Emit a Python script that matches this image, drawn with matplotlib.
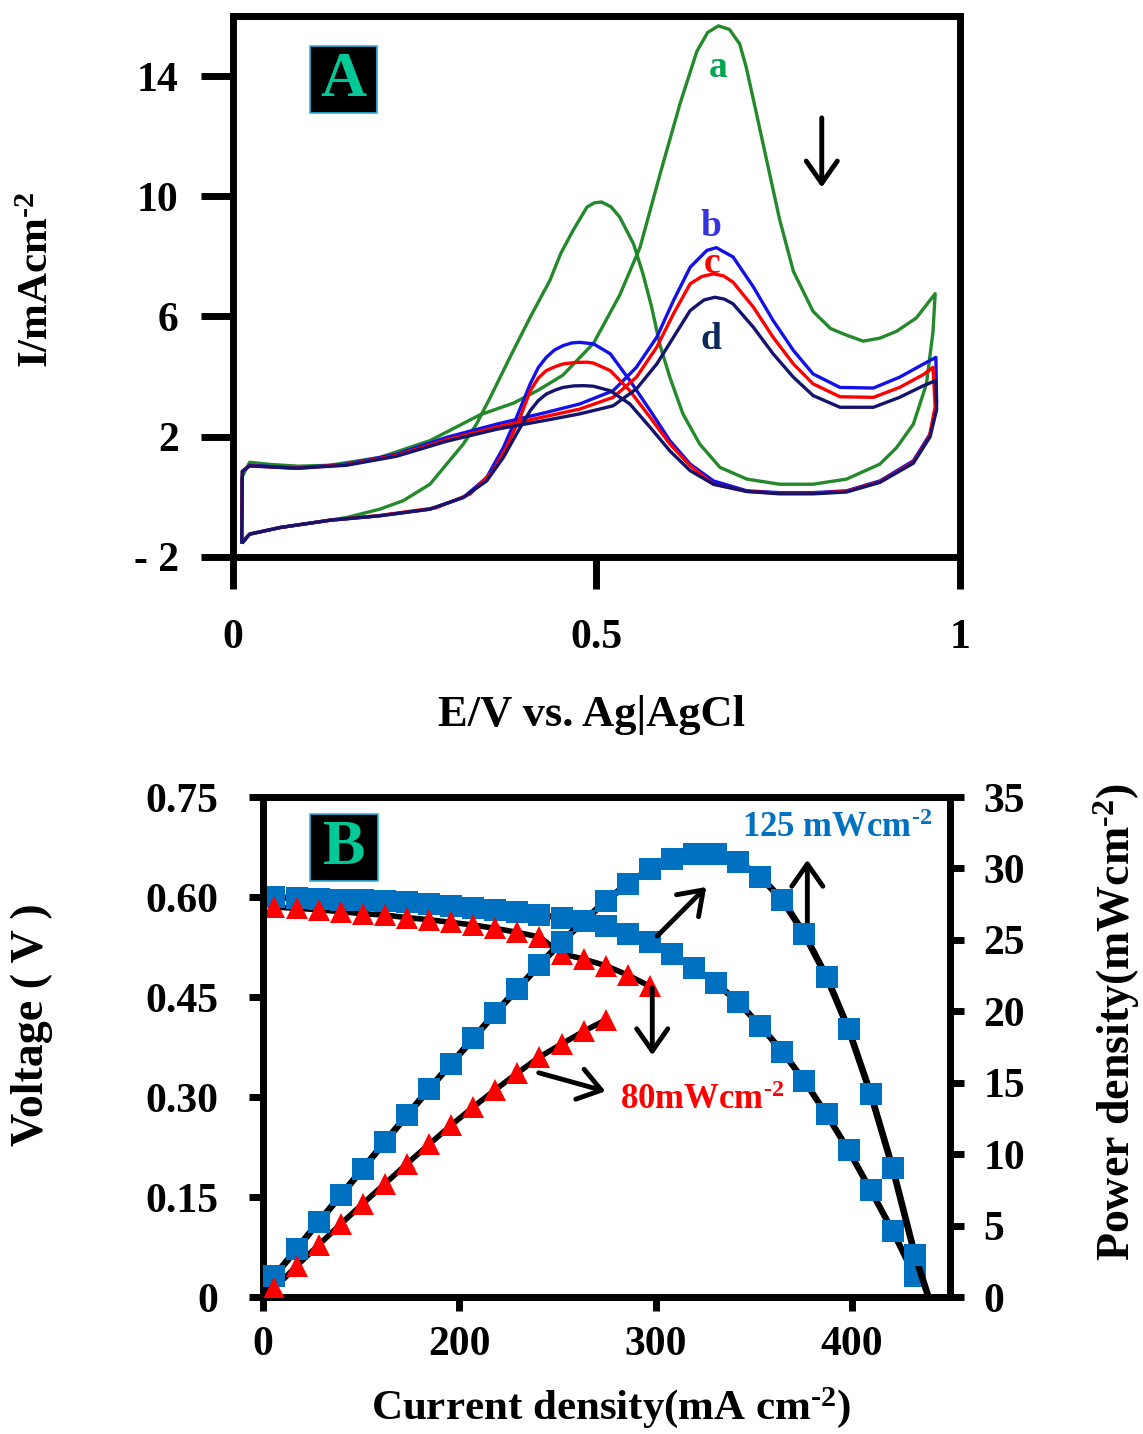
import matplotlib
matplotlib.use('Agg')
import matplotlib.pyplot as plt
from matplotlib import rcParams
from matplotlib.patches import Rectangle

## Times-like bold text everywhere
rcParams['font.family'] = 'serif'
rcParams['font.serif'] = ['Liberation Serif']
rcParams['font.weight'] = 'bold'
rcParams['mathtext.fontset'] = 'custom'
rcParams['mathtext.rm'] = 'Liberation Serif:bold'
rcParams['mathtext.default'] = 'rm'

SUP = r'$^{\text{-2}}$'

##---- (A) cyclic voltammograms: potential (V) and current (mA cm-2) ----##
a_E = [0.012, 0.012, 0.023, 0.051, 0.090, 0.133, 0.202, 0.271, 0.340, 0.386, 0.420,
       0.454, 0.496, 0.532, 0.560, 0.587, 0.615, 0.638, 0.653, 0.668, 0.683, 0.697,
       0.706, 0.716, 0.734, 0.752, 0.771, 0.798, 0.822, 0.844, 0.867, 0.890, 0.913,
       0.940, 0.966,
       0.963, 0.954, 0.936, 0.913, 0.890, 0.844, 0.798, 0.752, 0.707, 0.670, 0.642,
       0.619, 0.601, 0.587, 0.576, 0.564, 0.551, 0.532, 0.520, 0.507, 0.497, 0.487,
       0.468, 0.451, 0.436, 0.409, 0.381, 0.354, 0.335, 0.317, 0.294, 0.271, 0.234,
       0.202, 0.156, 0.110, 0.065, 0.023, 0.014]
a_I = [-1.45, 0.64, 1.15, 1.08, 1.02, 1.05, 1.31, 1.87, 2.73, 3.12, 3.55,
       4.05, 5.11, 6.71, 8.30, 10.69, 13.08, 14.81, 15.45, 15.67, 15.55, 15.07,
       14.30, 13.21, 11.22, 9.23, 7.50, 6.17, 5.60, 5.38, 5.18, 5.28, 5.51,
       5.95, 6.76,
       5.50, 3.76, 2.42, 1.64, 1.09, 0.59, 0.42, 0.42, 0.59, 0.98, 1.76,
       2.76, 3.98, 5.09, 6.31, 7.42, 8.42, 9.31, 9.65, 9.81, 9.78, 9.64,
       8.87, 8.10, 7.20, 5.98, 4.64, 3.31, 2.42, 1.76, 1.09, 0.42, -0.13,
       -0.41, -0.69, -0.86, -1.02, -1.24, -1.47]

b_E = [0.012, 0.013, 0.023, 0.088, 0.156, 0.225, 0.294, 0.363, 0.431, 0.477, 0.523,
       0.555, 0.583, 0.606, 0.629, 0.652, 0.665, 0.688, 0.716, 0.743, 0.771, 0.798,
       0.835, 0.881, 0.917, 0.950, 0.967,
       0.968, 0.959, 0.936, 0.890, 0.844, 0.798, 0.752, 0.707, 0.661, 0.629, 0.601,
       0.574, 0.546, 0.519, 0.496, 0.477, 0.466, 0.454, 0.442, 0.431, 0.420, 0.409,
       0.390, 0.372, 0.349, 0.317, 0.271, 0.202, 0.133, 0.065, 0.023, 0.014]
b_I = [-1.50, 0.85, 1.05, 0.96, 1.09, 1.42, 1.98, 2.42, 2.81, 3.09, 3.53,
       4.31, 5.31, 6.53, 7.64, 8.20, 8.29, 7.98, 6.98, 5.87, 4.87, 4.09,
       3.64, 3.62, 3.98, 4.42, 4.64,
       3.09, 2.09, 1.20, 0.53, 0.20, 0.14, 0.14, 0.20, 0.53, 1.09, 1.87,
       2.87, 3.87, 4.76, 5.09, 5.14, 5.12, 5.03, 4.88, 4.64, 4.30, 3.76,
       2.64, 1.64, 0.64, -0.02, -0.41, -0.63, -0.78, -1.02, -1.24, -1.50]

c_E = [0.012, 0.013, 0.023, 0.088, 0.156, 0.225, 0.294, 0.363, 0.431, 0.477, 0.523,
       0.555, 0.583, 0.606, 0.629, 0.645, 0.661, 0.675, 0.688, 0.716, 0.743, 0.771,
       0.798, 0.835, 0.881, 0.917, 0.950, 0.963,
       0.966, 0.958, 0.936, 0.890, 0.844, 0.798, 0.752, 0.707, 0.661, 0.629, 0.601,
       0.574, 0.546, 0.519, 0.496, 0.487, 0.470, 0.454, 0.443, 0.431, 0.420, 0.409,
       0.395, 0.376, 0.358, 0.326, 0.280, 0.202, 0.133, 0.065, 0.023, 0.014]
c_I = [-1.45, 0.85, 1.03, 0.95, 1.07, 1.38, 1.90, 2.32, 2.68, 2.92, 3.31,
       3.98, 4.98, 6.09, 7.09, 7.33, 7.42, 7.35, 7.14, 6.31, 5.31, 4.42,
       3.76, 3.33, 3.31, 3.64, 4.07, 4.31,
       3.00, 2.00, 1.15, 0.50, 0.18, 0.12, 0.12, 0.18, 0.42, 1.03, 1.76,
       2.64, 3.53, 4.20, 4.45, 4.48, 4.47, 4.42, 4.33, 4.20, 3.95, 3.53,
       2.64, 1.64, 0.87, 0.09, -0.36, -0.62, -0.78, -1.02, -1.24, -1.45]

d_E = [0.012, 0.013, 0.023, 0.088, 0.156, 0.225, 0.294, 0.363, 0.431, 0.477, 0.523,
       0.555, 0.583, 0.606, 0.629, 0.648, 0.663, 0.676, 0.688, 0.716, 0.743, 0.771,
       0.798, 0.835, 0.881, 0.917, 0.950, 0.967,
       0.968, 0.959, 0.936, 0.890, 0.844, 0.798, 0.752, 0.707, 0.661, 0.629, 0.601,
       0.574, 0.546, 0.519, 0.496, 0.482, 0.468, 0.454, 0.443, 0.431, 0.420, 0.409,
       0.390, 0.372, 0.349, 0.317, 0.271, 0.202, 0.133, 0.065, 0.023, 0.014]
d_I = [-1.50, 0.85, 1.03, 0.95, 1.05, 1.35, 1.85, 2.25, 2.55, 2.76, 3.03,
       3.59, 4.42, 5.31, 6.20, 6.55, 6.64, 6.58, 6.42, 5.64, 4.76, 3.98,
       3.37, 2.98, 2.98, 3.31, 3.70, 3.87,
       2.90, 2.00, 1.12, 0.48, 0.16, 0.10, 0.10, 0.18, 0.42, 0.87, 1.53,
       2.31, 3.09, 3.53, 3.68, 3.70, 3.69, 3.64, 3.55, 3.42, 3.20, 2.87,
       2.09, 1.31, 0.53, -0.02, -0.41, -0.63, -0.78, -1.02, -1.24, -1.50]

cv_names = ['a', 'b', 'c', 'd']
cv_colors = ['#23892B', '#1212E8', '#FF0000', '#14146E']
cv_label_colors = ['#00A550', '#3535DD', '#FF0000', '#0B2A5C']
cv_label_pos = [(0.668, 14.3), (0.657, 9.0), (0.659, 7.75), (0.657, 5.25)]

##---- (B) polarisation / power curves ----##
# current axis positions (tick "0" sits at 100)
current = [105.8, 117.1, 128.3, 139.6, 150.8, 162.1, 173.3, 184.6, 195.8, 207.1,
           218.3, 229.6, 240.8, 252.1, 263.3, 274.6, 285.8, 297.1, 308.3, 319.6,
           330.8, 342.1, 353.3, 364.6, 375.8, 387.1, 398.3, 409.6, 420.8, 432.1]
blue_V = [0.600, 0.598, 0.597, 0.596, 0.595, 0.594, 0.592, 0.589, 0.587, 0.584,
          0.581, 0.577, 0.573, 0.569, 0.564, 0.556, 0.544, 0.532, 0.515, 0.494,
          0.471, 0.442, 0.407, 0.368, 0.324, 0.274, 0.220, 0.160, 0.099, 0.031]
blue_P = [1.47, 3.36, 5.25, 7.12, 8.98, 10.87, 12.72, 14.56, 16.33, 18.10,
          19.88, 21.56, 23.24, 24.87, 26.30, 27.74, 28.91, 29.96, 30.66, 31.01,
          31.01, 30.47, 29.42, 27.79, 25.41, 22.42, 18.76, 14.21, 9.01, 2.94]
red_V = [0.585, 0.583, 0.581, 0.578, 0.575, 0.573, 0.569, 0.566, 0.562, 0.558,
         0.553, 0.547, 0.540, 0.515, 0.507, 0.497, 0.483, 0.466]
red_P = [0.61, 2.17, 3.64, 5.11, 6.53, 7.93, 9.33, 10.69, 12.02, 13.30,
         14.51, 15.68, 16.80, 17.71, 18.60, 19.40]
j_zero = 100.0      # zero current on the axis
j_limit = 439.0     # where the 125 mW power curve returns to zero

fig = plt.figure(figsize=(11.43, 14.34), dpi=100)

##================ panel A ================##
axA = fig.add_axes([0.2038, 0.6116, 0.6360, 0.3773])
for E, I, col in zip([a_E, b_E, c_E, d_E], [a_I, b_I, c_I, d_I], cv_colors):
    axA.plot(E, I, '-', color=col, lw=2.4, solid_joinstyle='round')
for name, col, (x, y) in zip(cv_names, cv_label_colors, cv_label_pos):
    axA.text(x, y, name, color=col, fontsize=27, fontweight='bold',
             ha='center', va='center')
axA.annotate('', xy=(0.81, 10.2), xytext=(0.81, 12.7),
             arrowprops=dict(arrowstyle='->,head_length=0.5,head_width=0.35',
                             lw=3.5, color='black', mutation_scale=32))
axA.set_xlim(0, 1)
axA.set_ylim(-2, 16)
axA.set_xticks([0, 0.5, 1])
axA.set_xticklabels(['0', '0.5', '1'])
axA.set_yticks([-2, 2, 6, 10, 14])
axA.set_yticklabels(['- 2', '2', '6', '10', '14'])
axA.tick_params(axis='both', direction='out', length=23, width=5, labelsize=30)
axA.tick_params(axis='x', pad=22)
axA.tick_params(axis='y', pad=16)
for s in axA.spines.values():
    s.set_linewidth(5)
axA.add_patch(Rectangle((0.106, 0.821), 0.092, 0.124, transform=axA.transAxes,
                        facecolor='black', edgecolor='#29B6E8', lw=1.2, zorder=5))
axA.text(0.152, 0.880, 'A', transform=axA.transAxes, color='#00C896',
         fontsize=46, fontweight='bold', ha='center', va='center', zorder=6)

fig.text(591 / 1143, 1 - 715 / 1434, 'E/V vs. Ag|AgCl', fontsize=32,
         fontweight='bold', ha='center', va='center')
fig.text(38 / 1143, 1 - 280 / 1434, 'I/mAcm' + SUP, fontsize=31,
         fontweight='bold', ha='center', va='center', rotation=90)

##================ panel B ================##
axB = fig.add_axes([0.2301, 0.0955, 0.6011, 0.3487])
axP = axB.twinx()

# voltage curves (left axis)
axB.plot(current, blue_V, '-', color='black', lw=4.5, zorder=2)
axB.plot(current, blue_V, 's', color='#0070C0', ms=15.5, mew=0, zorder=3)
axB.plot(current[:len(red_V)], red_V, '-', color='black', lw=4, zorder=2)
axB.plot(current[:len(red_V)], red_V, '^', color='#FF0000', ms=15.5, mew=0, zorder=3)

# power curves (right axis)
axP.plot([j_zero] + current + [j_limit], [0] + blue_P + [0], '-', color='black',
         lw=4.8, zorder=2)
axP.plot(current, blue_P, 's', color='#0070C0', ms=15.5, mew=0, zorder=3)
axP.plot([j_zero] + current[:len(red_P)], [0] + red_P, '-', color='black', lw=4,
         zorder=2)
axP.plot(current[:len(red_P)], red_P, '^', color='#FF0000', ms=15.5, mew=0, zorder=3)

axB.set_xlim(100, 450)
axB.set_ylim(0, 0.75)
axP.set_ylim(0, 35)
axB.set_xticks([100, 200, 300, 400])
axB.set_xticklabels(['0', '200', '300', '400'])
axB.set_yticks([0, 0.15, 0.30, 0.45, 0.60, 0.75])
axB.set_yticklabels(['0', '0.15', '0.30', '0.45', '0.60', '0.75'])
axP.set_yticks([0, 5, 10, 15, 20, 25, 30, 35])
axB.tick_params(axis='both', direction='out', length=10, width=5, labelsize=30)
axB.tick_params(axis='x', pad=11)
axB.tick_params(axis='y', pad=22)
axP.tick_params(axis='y', direction='out', length=10, width=5, labelsize=30, pad=14)
for s in list(axB.spines.values()) + list(axP.spines.values()):
    s.set_linewidth(5)

arrow_kw = dict(arrowstyle='->,head_length=0.5,head_width=0.35', lw=3.5,
                color='black', mutation_scale=32)
axB.annotate('', xy=(326.8, 0.618), xytext=(299.8, 0.5385), arrowprops=arrow_kw)
axB.annotate('', xy=(377.3, 0.660), xytext=(377.3, 0.5475), arrowprops=arrow_kw)
axB.annotate('', xy=(298.3, 0.3585), xytext=(298.3, 0.468), arrowprops=arrow_kw)
axB.annotate('', xy=(275.8, 0.3075), xytext=(239.1, 0.3375), arrowprops=arrow_kw)
axB.text(344.1, 0.7035, '125 mWcm' + SUP, color='#0070C0', fontsize=25,
         fontweight='bold', ha='left', va='center')
axB.text(282.0, 0.2955, '80mWcm' + SUP, color='#FF0000', fontsize=25,
         fontweight='bold', ha='left', va='center')

axB.add_patch(Rectangle((0.069, 0.833), 0.098, 0.134, transform=axB.transAxes,
                        facecolor='black', edgecolor='#29B6E8', lw=1.2, zorder=5))
axB.text(0.118, 0.897, 'B', transform=axB.transAxes, color='#00C896',
         fontsize=46, fontweight='bold', ha='center', va='center', zorder=6)

fig.text(611 / 1143, 1 - 1408 / 1434, 'Current density(mA cm' + SUP + ')', fontsize=31,
         fontweight='bold', ha='center', va='center')
fig.text(32 / 1143, 1 - 1025 / 1434, 'Voltage ( V )', fontsize=33,
         fontweight='bold', ha='center', va='center', rotation=90)
fig.text(1117 / 1143, 1 - 1022 / 1434, 'Power density(mWcm' + SUP + ')', fontsize=33,
         fontweight='bold', ha='center', va='center', rotation=90)

fig.savefig('out.png', dpi=100)
